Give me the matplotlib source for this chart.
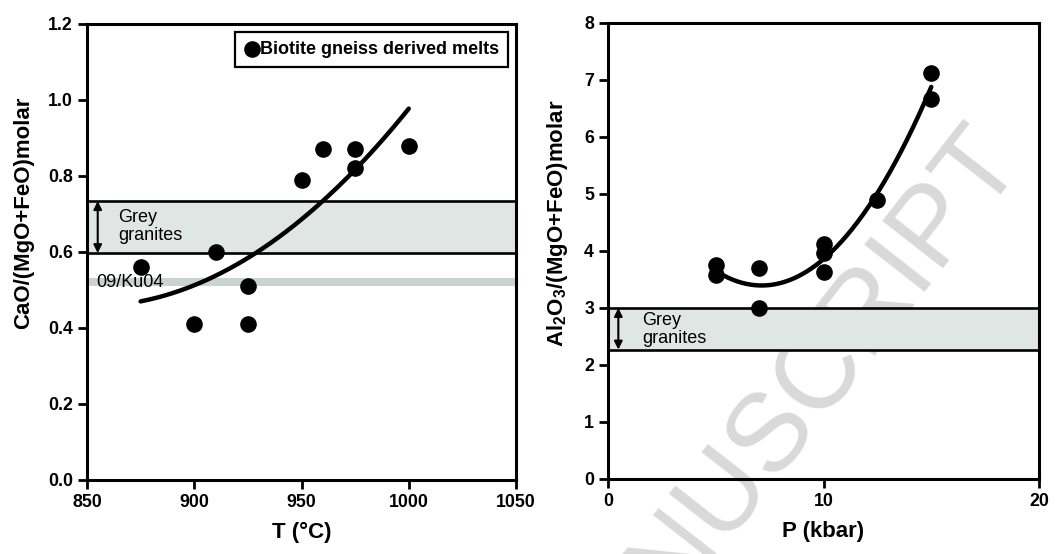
import numpy as np
import matplotlib
matplotlib.use("Agg")
import matplotlib.pyplot as plt

plt.rcParams['font.family'] = ['Liberation Sans', 'DejaVu Sans']
plt.rcParams['mathtext.fontset'] = 'custom'
plt.rcParams['mathtext.rm'] = 'Liberation Sans:bold'
plt.rcParams['mathtext.default'] = 'rm'

# experimental melts, CaO/(MgO+FeO) vs temperature
temp_c = [875, 900, 910, 925, 925, 950, 960, 975, 975, 1000]
cao_ratio = [0.56, 0.41, 0.60, 0.51, 0.41, 0.79, 0.87, 0.87, 0.82, 0.88]

# experimental melts, Al2O3/(MgO+FeO) vs pressure
press_kbar = [5, 5, 7, 7, 10, 10, 10, 12.5, 15, 15]
al_ratio = [3.75, 3.58, 3.70, 3.00, 4.13, 3.96, 3.63, 4.90, 7.13, 6.66]

# grey granite ranges and sample 09/Ku04
grey_cao = (0.597, 0.734)
ku04_cao = (0.510, 0.532)
grey_al = (2.27, 3.0)

BAND = '#e0e6e3'
KU_BAND = '#c9d3d0'
LW = 2.2

fig = plt.figure(figsize=(10.57, 5.54), dpi=100)
ax1 = fig.add_axes([0.0823, 0.1336, 0.4059, 0.8231])
ax2 = fig.add_axes([0.5752, 0.1354, 0.4078, 0.8231])


def style_axes(ax):
    for sp in ax.spines.values():
        sp.set_linewidth(LW)
    ax.tick_params(direction='out', length=6.5, width=2, top=False, right=False,
                   labelsize=12.8, pad=3.5)
    for lab in ax.get_xticklabels() + ax.get_yticklabels():
        lab.set_fontweight('bold')


def trend(ax, x, y):
    coef = np.polyfit(x, y, 2)
    xs = np.linspace(min(x), max(x), 200)
    ax.plot(xs, np.polyval(coef, xs), color='black', lw=3.2, zorder=4,
            solid_capstyle='round')


def band(ax, lo, hi, xtxt, xarr, ymid):
    ax.axhspan(lo, hi, color=BAND, lw=0, zorder=1)
    ax.axhline(lo, color='black', lw=1.9, zorder=2)
    ax.axhline(hi, color='black', lw=1.9, zorder=2)
    ax.annotate('', xy=(xarr, lo), xytext=(xarr, hi),
                arrowprops=dict(arrowstyle='<|-|>', color='black', lw=1.5,
                                mutation_scale=12, shrinkA=0, shrinkB=0),
                zorder=3)
    ax.text(xtxt, ymid, 'Grey\ngranites', fontsize=13, va='center',
            linespacing=1.05, zorder=3)


# left panel: CaO ratio
band(ax1, grey_cao[0], grey_cao[1], 864.5, 855, 0.667)
ax1.axhspan(ku04_cao[0], ku04_cao[1], color=KU_BAND, lw=0, zorder=1)
ax1.text(854.5, 0.521, '09/Ku04', fontsize=13, va='center', zorder=3)
trend(ax1, temp_c, cao_ratio)
ax1.scatter(temp_c, cao_ratio, s=120, color='black', zorder=5,
            label='Biotite gneiss derived melts')
ax1.set_xlim(850, 1050)
ax1.set_ylim(0, 1.2)
ax1.set_xticks([850, 900, 950, 1000, 1050])
ax1.set_yticks(np.arange(0, 1.21, 0.2))
ax1.yaxis.set_major_formatter(plt.FormatStrFormatter('%.1f'))
ax1.set_xlabel('T (°C)', fontsize=16, fontweight='bold', labelpad=8)
ax1.set_ylabel('CaO/(MgO+FeO)molar', fontsize=16, fontweight='bold',
               labelpad=10, y=0.585)
leg = ax1.legend(loc='upper right', frameon=True, fancybox=False,
                 framealpha=1, edgecolor='black', handletextpad=0.05,
                 borderpad=0.5, borderaxespad=0.45, handlelength=0.8,
                 prop={'weight': 'bold', 'size': 13})
leg.get_frame().set_linewidth(1.6)
style_axes(ax1)

# right panel: Al2O3 ratio
band(ax2, grey_al[0], grey_al[1], 1.6, 0.48, 2.62)
trend(ax2, press_kbar, al_ratio)
ax2.scatter(press_kbar, al_ratio, s=120, color='black', zorder=5)
ax2.set_xlim(0, 20)
ax2.set_ylim(0, 8)
ax2.set_xticks([0, 10, 20])
ax2.set_yticks(range(0, 9))
ax2.set_xlabel('P (kbar)', fontsize=16, fontweight='bold', labelpad=8)
ax2.set_ylabel(r'Al$_\mathrm{2}$O$_\mathrm{3}$/(MgO+FeO)molar', fontsize=16,
               fontweight='bold', labelpad=10, y=0.56)
style_axes(ax2)

# faint manuscript watermark behind the data
ax2.text(0.967, 0.72, 'MANUSCRIPT', transform=fig.transFigure, fontsize=80,
         color='#d9d9d9', rotation=52, rotation_mode='anchor', ha='right',
         va='baseline', zorder=0.5, clip_on=False)

fig.savefig('out.png', dpi=100)
